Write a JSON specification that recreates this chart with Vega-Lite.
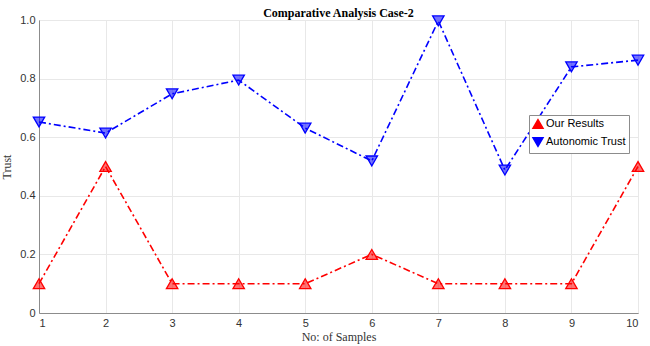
{
  "$schema": "https://vega.github.io/schema/vega-lite/v6.json",
  "width": 599,
  "height": 293,
  "autosize": {"type": "none"},
  "padding": {"left": 39, "top": 20, "right": 12, "bottom": 33},
  "background": "white",
  "title": {"text": "Comparative Analysis Case-2", "font": "Liberation Serif", "fontSize": 12, "fontWeight": "bold", "color": "#000", "offset": 0, "dy": 7},
  "config": {
    "view": {"stroke": "#8c8c8c", "strokeWidth": 1},
    "axis": {"gridColor": "#e8e8e8", "domainColor": "#8c8c8c", "ticks": false, "labelFont": "Liberation Sans", "labelFontSize": 11, "labelColor": "#333", "titleFont": "Liberation Serif", "titleFontWeight": "normal", "titleFontSize": 12, "titleColor": "#333"}
  },
  "data": {"values": [
    {"sample": 1, "series": "Our Results", "trust": 0.1},
    {"sample": 2, "series": "Our Results", "trust": 0.5},
    {"sample": 3, "series": "Our Results", "trust": 0.1},
    {"sample": 4, "series": "Our Results", "trust": 0.1},
    {"sample": 5, "series": "Our Results", "trust": 0.1},
    {"sample": 6, "series": "Our Results", "trust": 0.2},
    {"sample": 7, "series": "Our Results", "trust": 0.1},
    {"sample": 8, "series": "Our Results", "trust": 0.1},
    {"sample": 9, "series": "Our Results", "trust": 0.1},
    {"sample": 10, "series": "Our Results", "trust": 0.5},
    {"sample": 1, "series": "Autonomic Trust", "trust": 0.652},
    {"sample": 2, "series": "Autonomic Trust", "trust": 0.614},
    {"sample": 3, "series": "Autonomic Trust", "trust": 0.748},
    {"sample": 4, "series": "Autonomic Trust", "trust": 0.795},
    {"sample": 5, "series": "Autonomic Trust", "trust": 0.631},
    {"sample": 6, "series": "Autonomic Trust", "trust": 0.519},
    {"sample": 7, "series": "Autonomic Trust", "trust": 0.997},
    {"sample": 8, "series": "Autonomic Trust", "trust": 0.488},
    {"sample": 9, "series": "Autonomic Trust", "trust": 0.84},
    {"sample": 10, "series": "Autonomic Trust", "trust": 0.863}
  ]},
  "encoding": {
    "x": {"field": "sample", "type": "quantitative", "scale": {"domain": [1, 10], "nice": false}, "axis": {"values": [1,2,3,4,5,6,7,8,9,10], "title": "No: of Samples", "labelPadding": 4, "titlePadding": 3}},
    "y": {"field": "trust", "type": "quantitative", "scale": {"domain": [0, 1], "nice": false}, "axis": {"values": [0,0.2,0.4,0.6,0.8,1], "labelExpr": "datum.value == 0 ? '0' : format(datum.value, '.1f')", "title": "Trust", "labelPadding": 4, "titlePadding": 6}},
    "color": {"field": "series", "type": "nominal", "scale": {"domain": ["Our Results", "Autonomic Trust"], "range": ["#ff0000", "#0000ff"]}, "legend": {"title": null, "orient": "none", "legendX": 490, "legendY": 95, "fillColor": "white", "strokeColor": "#8c8c8c", "padding": 3, "labelFont": "Liberation Sans", "labelFontSize": 11, "labelColor": "#000", "rowPadding": 2, "symbolSize": 100, "labelOffset": 2}},
    "shape": {"field": "series", "type": "nominal", "scale": {"domain": ["Our Results", "Autonomic Trust"], "range": ["triangle-up", "triangle-down"]}}
  },
  "layer": [
    {"mark": {"type": "line", "strokeDash": [7, 3, 2, 3], "strokeWidth": 1.6}, "encoding": {"detail": {"field": "series"}, "shape": null}},
    {"mark": {"type": "point", "filled": true, "size": 130, "fillOpacity": 0.55, "strokeWidth": 1.3},
     "encoding": {"stroke": {"field": "series", "type": "nominal", "scale": {"domain": ["Our Results", "Autonomic Trust"], "range": ["#ff0000", "#0000ff"]}, "legend": null}}}
  ]
}
